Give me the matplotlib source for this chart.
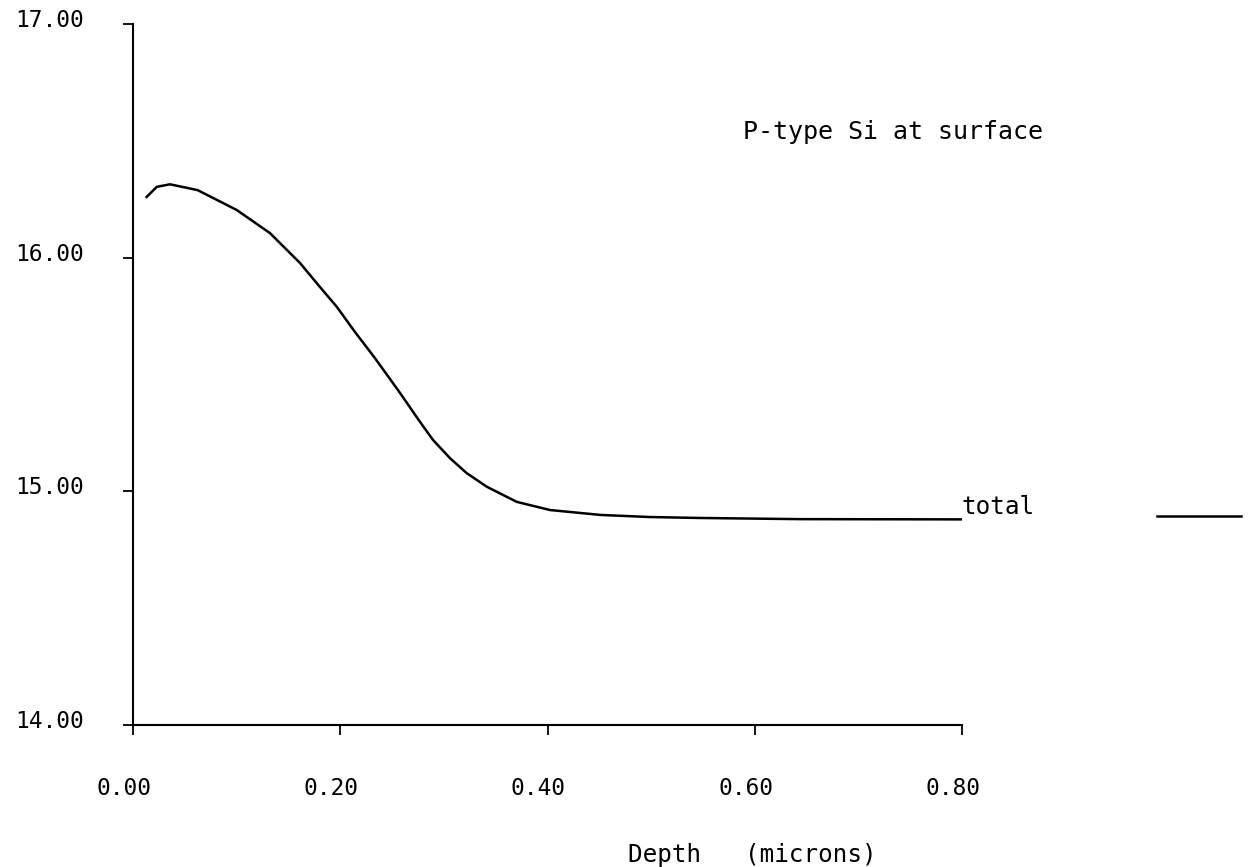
import matplotlib
matplotlib.use("Agg")
import matplotlib.pyplot as plt
import matplotlib.transforms as mtransforms

# ---- data ----
depth = [0.0123, 0.0229, 0.0357, 0.0624, 0.1001, 0.1322, 0.1612, 0.1805,
         0.1966, 0.2142, 0.2335, 0.2577, 0.2770, 0.2895, 0.3059, 0.3220,
         0.3413, 0.3703, 0.4024, 0.4511, 0.4989, 0.5472, 0.6437, 0.80]
conc = [16.256, 16.303, 16.314, 16.289, 16.204, 16.105, 15.977, 15.874,
        15.790, 15.682, 15.570, 15.421, 15.297, 15.220, 15.142, 15.078,
        15.020, 14.955, 14.920, 14.899, 14.890, 14.886, 14.881, 14.880]
x_ticks = [0.0, 0.2, 0.4, 0.6, 0.8]
x_tick_labels = ["0.00", "0.20", "0.40", "0.60", "0.80"]
y_ticks = [14, 15, 16, 17]
y_tick_labels = ["14.00", "15.00", "16.00", "17.00"]
legend_x = [0.988, 1.069]
legend_y = [14.894, 14.894]
series_label = "total"
annotation = "P-type Si at surface"
x_title = "Depth   (microns)"

FONT = "DejaVu Sans Mono"
W, H, DPI = 1251, 867, 100
fig = plt.figure(figsize=(W / DPI, H / DPI), dpi=DPI)
fig.patch.set_facecolor("white")

# axes: x 133..962 px, y 24..725 px
ax = fig.add_axes([133 / W, (H - 725) / H, (962 - 133) / W, (725 - 24) / H])
ax.set_xlim(0, 0.8)
ax.set_ylim(14, 17)
for s in ("top", "right"):
    ax.spines[s].set_visible(False)
for s in ("left", "bottom"):
    ax.spines[s].set_linewidth(1.5)
    ax.spines[s].set_color("black")

ax.plot(depth, conc, color="black", lw=1.8, solid_joinstyle="round",
        solid_capstyle="butt")
ax.text(0.8, 14.88, series_label, fontfamily=FONT, fontsize=17.5,
        ha="left", va="bottom", color="black")
ax.plot(legend_x, legend_y, color="black", lw=1.8, clip_on=False)

ax.set_xticks(x_ticks)
ax.set_xticklabels(x_tick_labels, fontfamily=FONT, fontsize=16.5)
ax.set_yticks(y_ticks)
ax.set_yticklabels(y_tick_labels, fontfamily=FONT, fontsize=16.5)
ax.tick_params(axis="x", direction="out", length=7.2, width=1.3, pad=30)
ax.tick_params(axis="y", direction="out", length=7.2, width=1.3, pad=28)

xoff = mtransforms.ScaledTranslation(-9 / DPI, 0, fig.dpi_scale_trans)
for lab in ax.get_xticklabels():
    lab.set_transform(lab.get_transform() + xoff)
yoff = mtransforms.ScaledTranslation(0, 6 / DPI, fig.dpi_scale_trans)
for lab in ax.get_yticklabels():
    lab.set_transform(lab.get_transform() + yoff)

fig.text(743 / W, (H - 139) / H, annotation, fontfamily=FONT, fontsize=18,
         ha="left", va="baseline", color="black")
fig.text(628 / W, (H - 855) / H, x_title, fontfamily=FONT, fontsize=17.5,
         ha="left", va="center", color="black")

fig.savefig("out.png", dpi=DPI, facecolor="white")
